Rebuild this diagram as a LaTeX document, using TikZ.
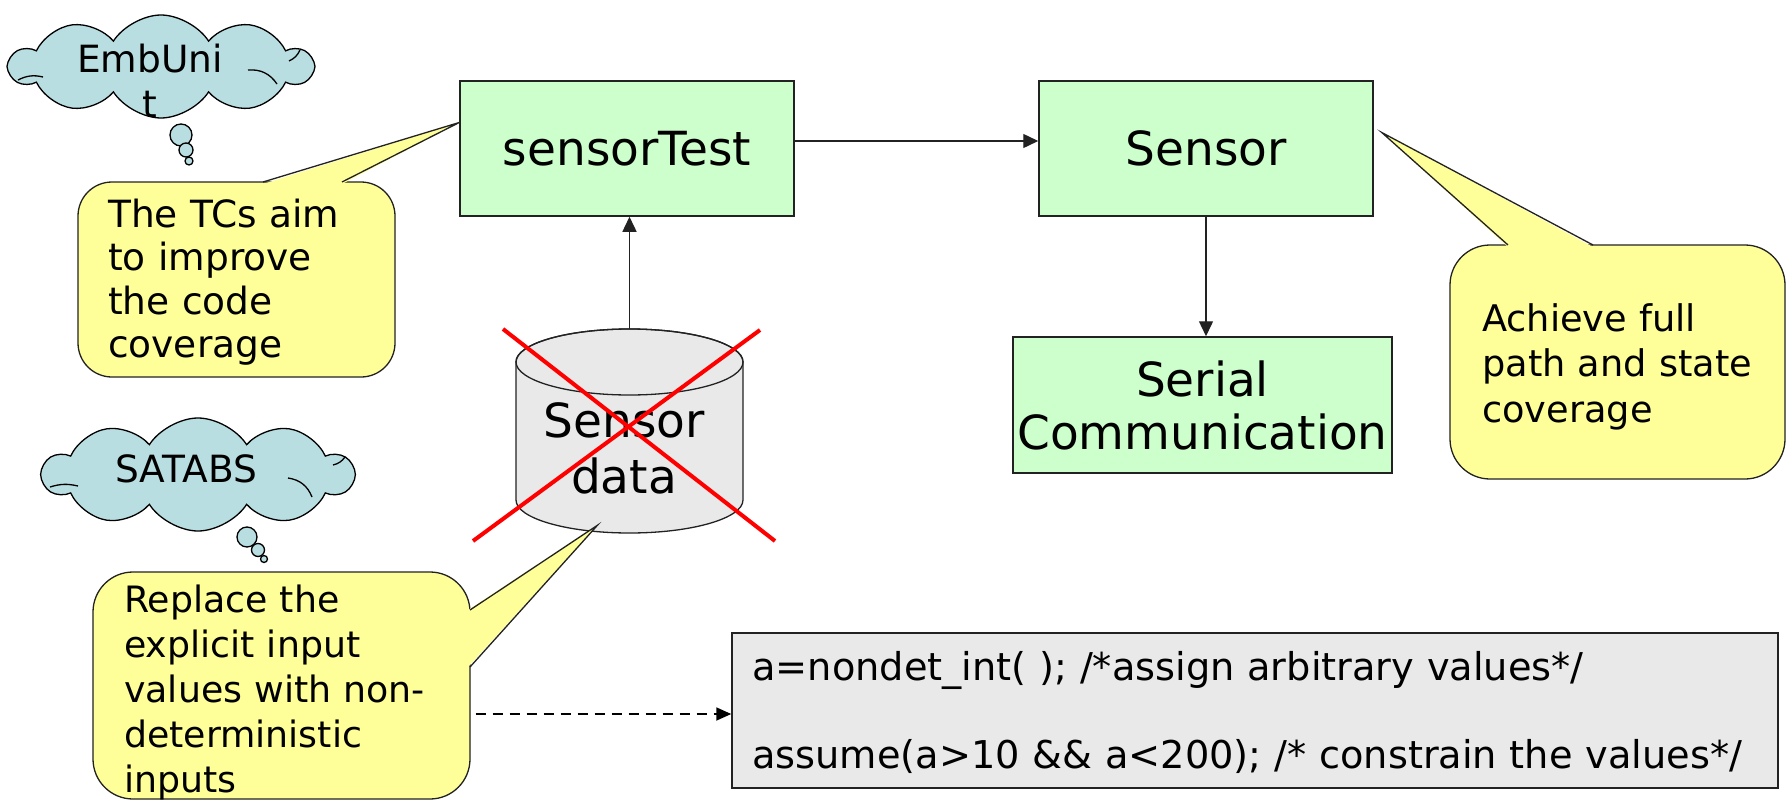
\documentclass[tikz,border=0pt]{standalone}
\usepackage{fontspec}
\setmainfont{DejaVu Sans}
\usetikzlibrary{arrows.meta,shapes.symbols}
\definecolor{boxgreen}{HTML}{CCFFCC}
\definecolor{noteyellow}{HTML}{FFFF99}
\definecolor{cloudblue}{HTML}{B8DEE1}
\definecolor{panelgray}{HTML}{E9E9E9}
\definecolor{edge}{HTML}{222222}
\tikzset{
  greenbox/.style={rectangle, draw=edge, fill=boxgreen, line width=1.5pt, inner sep=0pt,
    font=\fontsize{47}{58}\selectfont, align=center},
  flow/.style={draw=edge, line width=1.4pt, -{Triangle[length=15pt,width=14pt]}},
  dashflow/.style={draw=black, line width=1.8pt, dash pattern=on 10pt off 7pt,
    -{Triangle[length=15pt,width=13pt]}},
  notebody/.style={rectangle, draw=edge, fill=noteyellow, line width=1.3pt, inner sep=0pt},
  tailedge/.style={draw=edge, line width=1.3pt, line join=miter},
  notetext/.style={anchor=base west, inner sep=0pt, align=left},
  thought/.style={draw=black, fill=cloudblue, line width=1.3pt},
  curl/.style={draw=black, line width=1.3pt},
  cloudtext/.style={anchor=base, inner sep=0pt, align=center, text width=260pt,
    font=\fontsize{37.5}{45}\selectfont},
  cross/.style={draw=red, line width=4pt},
}
\begin{document}
\begin{tikzpicture}[x=1pt,y=-1pt]
\useasboundingbox (0,0) rectangle (1786,800);

% ---- main blocks ----
\node[greenbox, minimum width=334pt, minimum height=135pt] (st) at (627,148.5) {sensorTest};
\node[greenbox, minimum width=334pt, minimum height=135pt] (sensor) at (1206,148.5) {Sensor};
\node[greenbox, minimum width=379pt, minimum height=136pt] (serial) at (1202.5,405) {Serial\\[-5pt]Communication};

% ---- data store (cylinder) ----
\node[inner sep=0pt, minimum width=227pt, minimum height=204pt] (cyl) at (629.5,431) {};
\filldraw[draw=edge, fill=panelgray, line width=1.3pt]
  (516,362) -- (516,500) arc (180:360:113.5pt and 33pt) -- (743,362) arc (0:180:113.5pt and 33pt) -- cycle;
\draw[draw=edge, line width=1.3pt] (629.5,362) ellipse [x radius=113.5pt, y radius=33pt];
\node[anchor=base, inner sep=0pt, align=center, text width=220pt,
  font=\fontsize{47}{56}\selectfont] (cyltext) at (624,437) {Sensor\\data};
\draw[cross] (503,329) -- (775,541);
\draw[cross] (760,330) -- (473,541);

% ---- connectors ----
\coordinate (h0) at ([yshift=7.5pt]st.east);
\draw[flow] (h0) -- (h0 -| sensor.west);
\draw[flow] (cyl.north) -- (cyl.north |- st.south);
\draw[flow] (sensor.south) -- (sensor.south |- serial.north);

% ---- code panel ----
\node[rectangle, draw=edge, fill=panelgray, line width=1.5pt, minimum width=1046pt,
  minimum height=155pt, inner sep=0pt] (code) at (1255,710.5) {};
\node[notetext, font=\fontsize{38.3}{88}\selectfont, text width=1030pt] (codetext) at (752,680)
  {a=nondet\_int( ); /*assign arbitrary values*/\\assume(a>10 \&\& a<200); /* constrain the values*/};

% ---- callout: test cases ----
\node[notebody, rounded corners=34pt, minimum width=317pt, minimum height=195pt] (note1) at (236.5,279.5) {};
\coordinate (tip1) at ([yshift=26pt]st.west);
\fill[noteyellow] (263,184) -- (tip1) -- (342,184) -- cycle;
\draw[tailedge] (263,182) -- (tip1) -- (342,182);
\node[notetext, font=\fontsize{37.5}{43.5}\selectfont, text width=290pt] (note1text) at (108,227)
  {The TCs aim\\to improve\\the code\\coverage};

% ---- callout: coverage ----
\node[notebody, rounded corners=40pt, minimum width=335pt, minimum height=234pt] (note2) at (1617.5,362) {};
\coordinate (tip2) at ([xshift=8pt,yshift=16pt]sensor.east);
\fill[noteyellow] (1508,247) -- (tip2) -- (1593,247) -- cycle;
\draw[tailedge] (1508,245) -- (tip2) -- (1593,245);
\node[notetext, font=\fontsize{36.7}{45.5}\selectfont, text width=300pt] (note2text) at (1482,331)
  {Achieve full\\path and state\\coverage};

% ---- callout: non-deterministic inputs ----
\node[notebody, rounded corners=40pt, minimum width=377pt, minimum height=227pt] (note3) at (281.5,685.5) {};
\coordinate (tip3) at ([xshift=-32pt,yshift=8pt]cyl.south);
\fill[noteyellow] (468,610) -- (tip3) -- (468,667) -- cycle;
\draw[tailedge] (470,610) -- (tip3) -- (470,667);
\node[notetext, font=\fontsize{36.3}{45}\selectfont, text width=340pt] (note3text) at (124,612)
  {Replace the\\explicit input\\values with non-\\deterministic\\inputs};
\coordinate (d0) at ([yshift=-28.5pt,xshift=5pt]note3.east);
\draw[dashflow] (d0) -- (d0 -| code.west);

% ---- thought clouds ----
\node[cloud, cloud puffs=10, cloud puff arc=115, cloud ignores aspect, thought,
  minimum width=302pt, minimum height=103pt] (emb) at (161,66.5) {};
\draw[curl] (18,80) to[bend left=20] (43,77);
\draw[curl] (248,70) to[bend left=30] (277,84);
\draw[curl] (289,61) to[bend right=20] (300,50);
\node[cloudtext] (embtext) at (150,73) {EmbUni\\t};
\draw[thought] (181,135) circle (11pt);
\draw[thought] (186,150) circle (7pt);
\draw[thought] (189,161) circle (4pt);

\node[cloud, cloud puffs=10, cloud puff arc=115, cloud ignores aspect, thought,
  minimum width=310pt, minimum height=113pt] (sat) at (198,474.5) {};
\draw[curl] (50,487) to[bend left=15] (78,486);
\draw[curl] (288,478) to[bend left=30] (312,497);
\draw[curl] (333,465) to[bend right=20] (345,457);
\node[cloudtext] (sattext) at (186,482) {SATABS};
\draw[thought] (247,537) circle (10pt);
\draw[thought] (258,550) circle (6.5pt);
\draw[thought] (264,559) circle (3.5pt);
\end{tikzpicture}
\end{document}
